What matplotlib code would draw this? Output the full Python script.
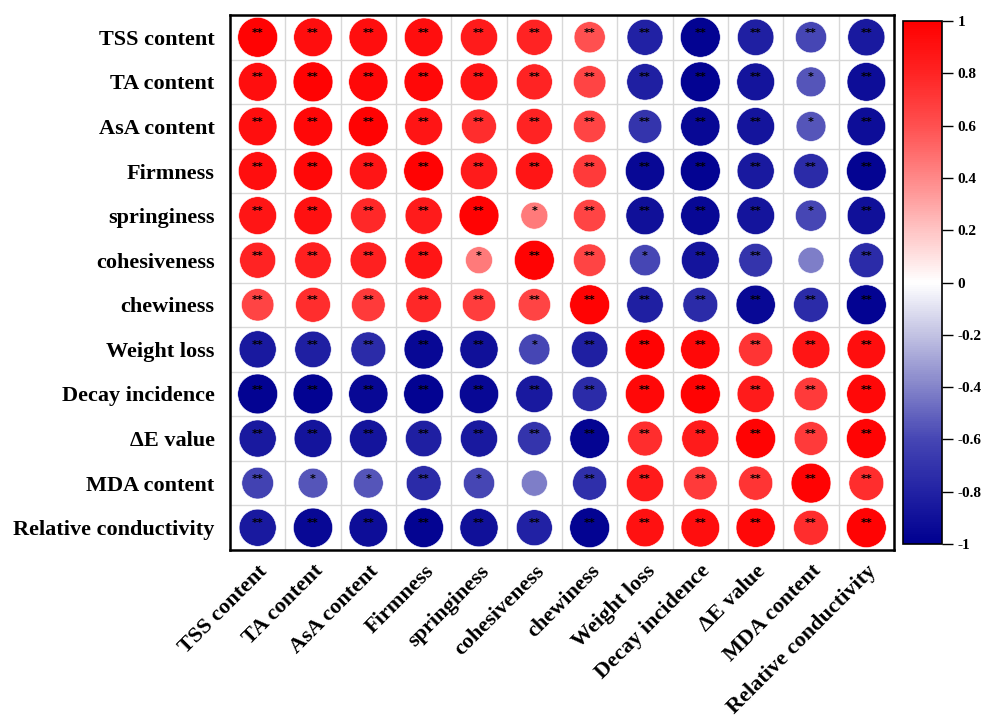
import numpy as np
import matplotlib
matplotlib.use("Agg")
import matplotlib.pyplot as plt
from matplotlib.colors import LinearSegmentedColormap

variables = ["TSS content", "TA content", "AsA content", "Firmness", "springiness",
             "cohesiveness", "chewiness", "Weight loss", "Decay incidence",
             "\u0394E value", "MDA content", "Relative conductivity"]

# Pearson correlation coefficients (rows/cols in the order of `variables`)
r_tss   = [0.98, 0.92, 0.92, 0.92, 0.85, 0.80, 0.60, -0.80, -0.98, -0.82, -0.60, -0.85]
r_ta    = [0.92, 0.98, 0.95, 0.95, 0.88, 0.80, 0.65, -0.82, -0.98, -0.88, -0.55, -0.92]
r_asa   = [0.92, 0.95, 0.98, 0.88, 0.75, 0.80, 0.65, -0.70, -0.95, -0.88, -0.55, -0.92]
r_firm  = [0.92, 0.95, 0.88, 0.98, 0.85, 0.88, 0.70, -0.95, -0.98, -0.85, -0.75, -0.97]
r_spr   = [0.88, 0.90, 0.78, 0.85, 0.98, 0.45, 0.65, -0.90, -0.95, -0.88, -0.60, -0.90]
r_coh   = [0.80, 0.82, 0.82, 0.88, 0.45, 0.98, 0.65, -0.60, -0.88, -0.70, -0.42, -0.75]
r_chew  = [0.65, 0.75, 0.70, 0.78, 0.68, 0.65, 0.98, -0.82, -0.75, -0.95, -0.75, -0.98]
r_wl    = [-0.85, -0.82, -0.75, -0.95, -0.90, -0.60, -0.82, 0.98, 0.95, 0.72, 0.88, 0.92]
r_decay = [-0.98, -0.98, -0.95, -0.98, -0.95, -0.85, -0.75, 0.95, 0.98, 0.85, 0.70, 0.95]
r_de    = [-0.85, -0.88, -0.88, -0.82, -0.85, -0.70, -0.97, 0.75, 0.85, 0.98, 0.70, 0.97]
r_mda   = [-0.62, -0.55, -0.55, -0.75, -0.60, -0.42, -0.72, 0.85, 0.70, 0.72, 0.98, 0.75]
r_rc    = [-0.85, -0.95, -0.92, -0.97, -0.90, -0.80, -0.98, 0.90, 0.92, 0.95, 0.75, 0.98]

# Significance marks: 2 = p<0.01 (**), 1 = p<0.05 (*), 0 = n.s.
sig_tss   = [2, 2, 2, 2, 2, 2, 2, 2, 2, 2, 2, 2]
sig_ta    = [2, 2, 2, 2, 2, 2, 2, 2, 2, 2, 1, 2]
sig_asa   = [2, 2, 2, 2, 2, 2, 2, 2, 2, 2, 1, 2]
sig_firm  = [2, 2, 2, 2, 2, 2, 2, 2, 2, 2, 2, 2]
sig_spr   = [2, 2, 2, 2, 2, 1, 2, 2, 2, 2, 1, 2]
sig_coh   = [2, 2, 2, 2, 1, 2, 2, 1, 2, 2, 0, 2]
sig_chew  = [2, 2, 2, 2, 2, 2, 2, 2, 2, 2, 2, 2]
sig_wl    = [2, 2, 2, 2, 2, 1, 2, 2, 2, 2, 2, 2]
sig_decay = [2, 2, 2, 2, 2, 2, 2, 2, 2, 2, 2, 2]
sig_de    = [2, 2, 2, 2, 2, 2, 2, 2, 2, 2, 2, 2]
sig_mda   = [2, 1, 1, 2, 1, 0, 2, 2, 2, 2, 2, 2]
sig_rc    = [2, 2, 2, 2, 2, 2, 2, 2, 2, 2, 2, 2]

cbar_ticks = [-1, -0.8, -0.6, -0.4, -0.2, 0, 0.2, 0.4, 0.6, 0.8, 1]

corr = np.array([r_tss, r_ta, r_asa, r_firm, r_spr, r_coh, r_chew,
                 r_wl, r_decay, r_de, r_mda, r_rc])
sig = np.array([sig_tss, sig_ta, sig_asa, sig_firm, sig_spr, sig_coh, sig_chew,
                sig_wl, sig_decay, sig_de, sig_mda, sig_rc])
n = len(variables)

cmap = LinearSegmentedColormap.from_list(
    "bwr_corr",
    [(0.0, "#000090"), (0.1, "#2222A4"), (0.2, "#4646B4"), (0.3, "#8484CA"),
     (0.4, "#C2C2E3"), (0.5, "#FFFFFF"), (0.6, "#FFC4C4"), (0.7, "#FF8888"),
     (0.8, "#FF5050"), (0.9, "#FF2424"), (1.0, "#FF0000")])

serif = ["Liberation Serif", "DejaVu Serif"]

fig = plt.figure(figsize=(9.81, 7.22), dpi=100)
ax = fig.add_axes([230 / 981, 1 - 550 / 722, 664 / 981, 535 / 722])

cols, rows = np.meshgrid(np.arange(n), np.arange(n))
max_d = 29.0  # circle diameter (points) for |r| = 1
sizes = (max_d ** 2) * np.abs(corr)
sc = ax.scatter(cols.ravel(), rows.ravel(), s=sizes.ravel(), c=corr.ravel(),
                cmap=cmap, vmin=-1, vmax=1, edgecolors="#FFFFFF", linewidths=0.4,
                zorder=3)

stars = {0: "", 1: "*", 2: "**"}
for i in range(n):
    for j in range(n):
        ax.text(j, i - 0.1, stars[sig[i, j]], ha="center", va="center",
                fontsize=8, fontweight="bold", color="black", zorder=4)

ax.set_xlim(-0.5, n - 0.5)
ax.set_ylim(n - 0.5, -0.5)
ax.set_xticks(np.arange(n))
ax.set_yticks(np.arange(n))
ax.set_xticklabels(variables, rotation=45, ha="right", va="top",
                   rotation_mode="anchor", family=serif, fontweight="bold", fontsize=16)
ax.set_yticklabels(variables, family=serif, fontweight="bold", fontsize=16)
ax.tick_params(axis="y", length=0, pad=11)
ax.tick_params(axis="x", length=0, pad=8)
ax.set_xticks(np.arange(n + 1) - 0.5, minor=True)
ax.set_yticks(np.arange(n + 1) - 0.5, minor=True)
ax.tick_params(which="minor", length=0)
ax.grid(which="minor", color="#D8D8D8", linewidth=1.0, zorder=0)
ax.grid(which="major", visible=False)
for sp in ax.spines.values():
    sp.set_linewidth(1.8)
    sp.set_color("black")

cax = fig.add_axes([903 / 981, 1 - 544 / 722, 39 / 981, 523 / 722])
cb = fig.colorbar(sc, cax=cax, ticks=cbar_ticks)
cb.outline.set_linewidth(1.2)
cb.ax.tick_params(length=8, width=1.0, pad=3, direction="out")
cb.ax.set_yticklabels([f"{t:g}" for t in cbar_ticks], family=serif,
                      fontweight="bold", fontsize=11)

fig.savefig("out.png", dpi=100)
